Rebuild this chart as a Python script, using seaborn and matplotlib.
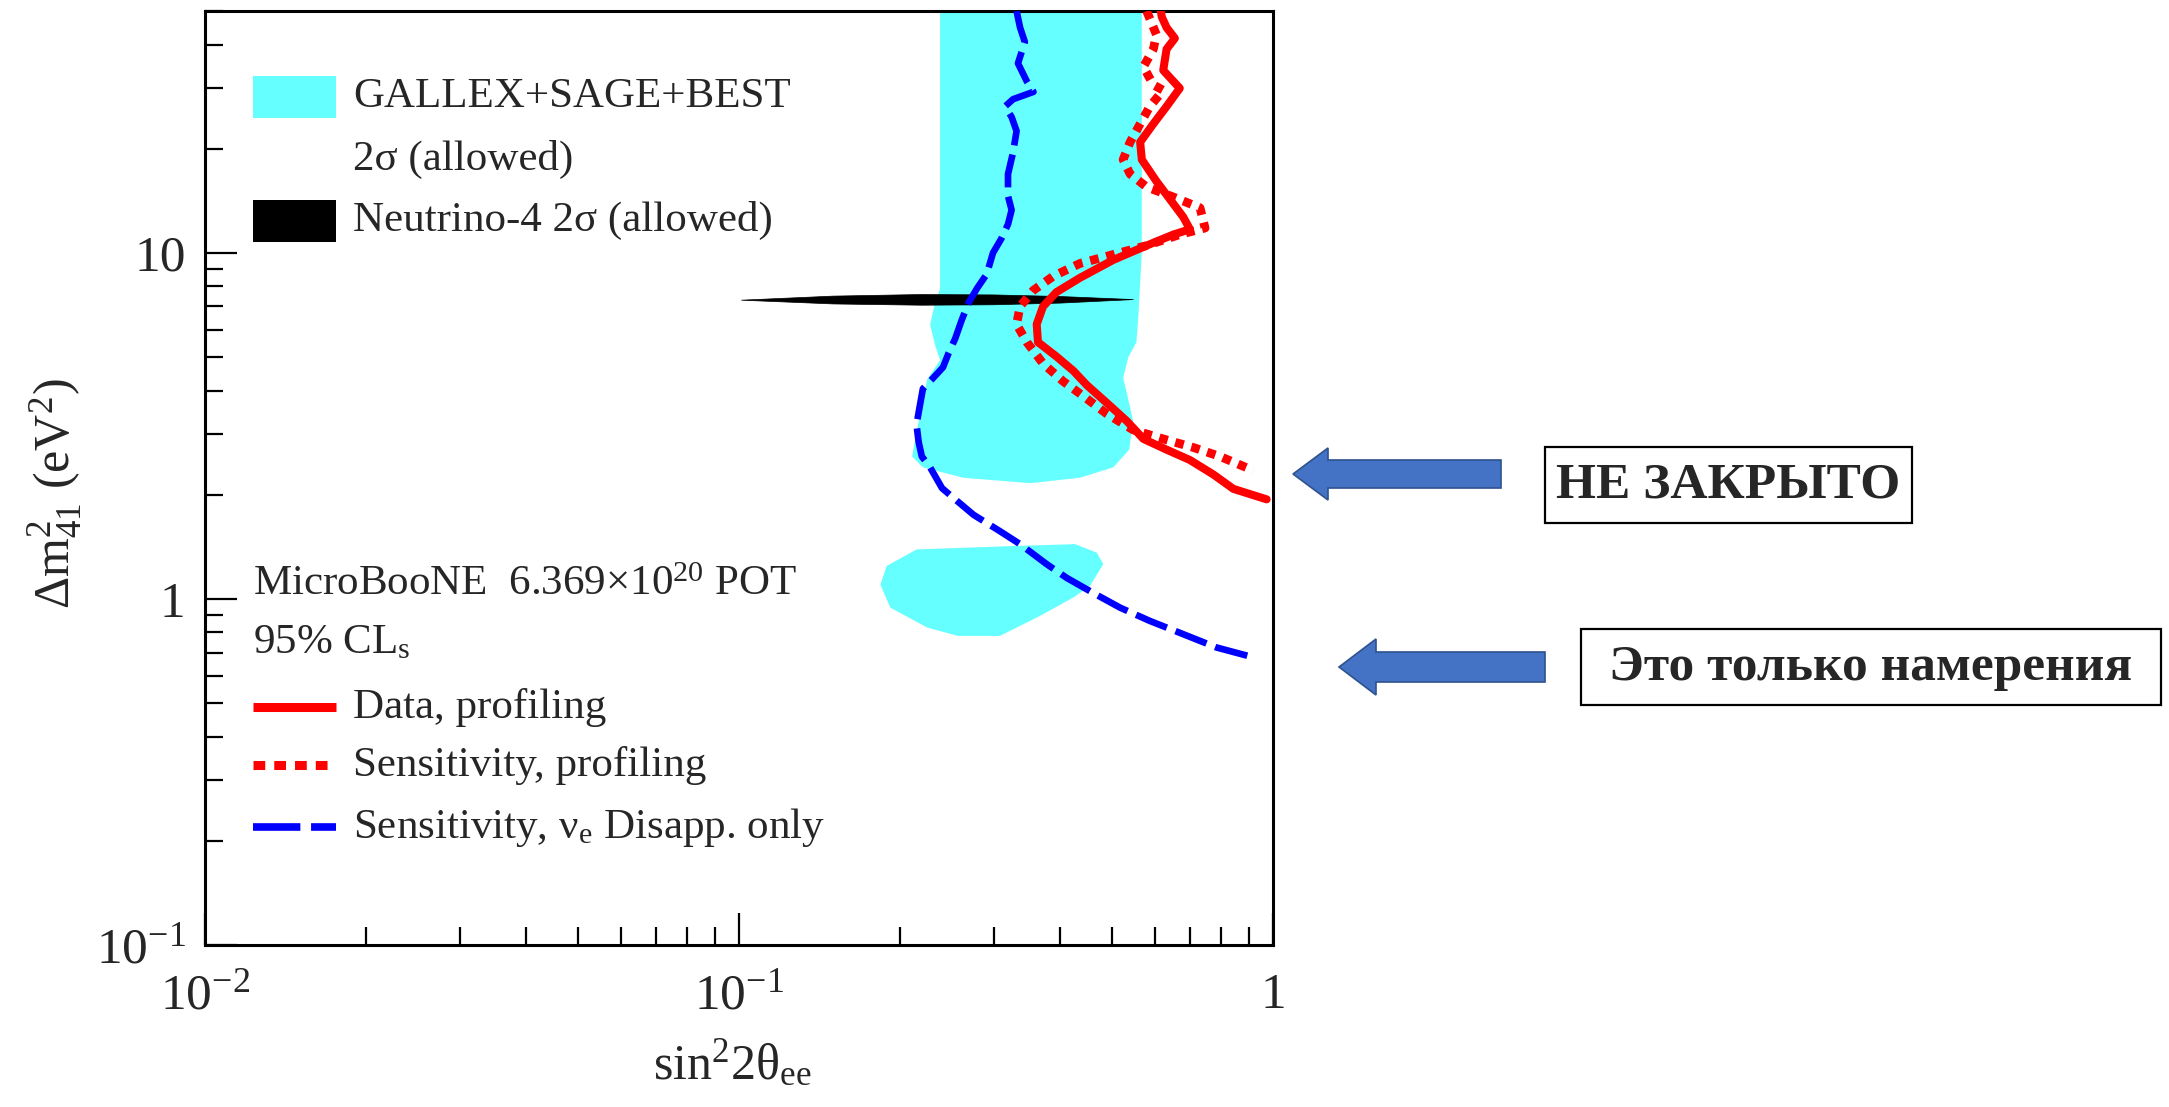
import matplotlib
matplotlib.use("Agg")
import matplotlib.pyplot as plt
import seaborn as sns
from matplotlib.patches import Rectangle, Polygon
from matplotlib.ticker import FixedLocator, LogLocator, NullFormatter

# GALLEX+SAGE+BEST 2 sigma allowed region, upper island
gallex_up_x = [0.238, 0.238, 0.232, 0.228, 0.233, 0.238, 0.225, 0.219, 0.212, 0.211, 0.221, 0.263,
               0.351, 0.435, 0.502, 0.538, 0.547, 0.532, 0.524, 0.536, 0.555, 0.560, 0.564, 0.568, 0.568]
gallex_up_y = [60, 7.9, 7.0, 6.2, 5.4, 4.9, 4.3, 3.5, 2.7, 2.58, 2.40, 2.24,
               2.16, 2.24, 2.40, 2.70, 3.27, 3.96, 4.35, 5.0, 5.52, 6.68, 8.2, 10.0, 60]
# lower island
gallex_lo_x = [0.215, 0.317, 0.426, 0.468, 0.481, 0.454, 0.423, 0.366, 0.308, 0.257, 0.225, 0.192, 0.184, 0.189]
gallex_lo_y = [1.39, 1.42, 1.44, 1.36, 1.26, 1.09, 1.01, 0.893, 0.782, 0.782, 0.827, 0.944, 1.10, 1.245]

# Neutrino-4 2 sigma allowed
nu4_x = [0.101, 0.15, 0.22, 0.30, 0.40, 0.548, 0.40, 0.30, 0.22, 0.15, 0.101]
nu4_y = [7.30, 7.50, 7.58, 7.56, 7.48, 7.33, 7.16, 7.08, 7.06, 7.12, 7.30]

# Data, profiling
data_x = [0.614, 0.619, 0.632, 0.655, 0.632, 0.623, 0.669, 0.632, 0.597, 0.564, 0.568, 0.605, 0.641,
          0.679, 0.699, 0.651, 0.580, 0.502, 0.435, 0.393, 0.371, 0.361, 0.363, 0.393, 0.423, 0.448,
          0.488, 0.532, 0.572, 0.632, 0.699, 0.773, 0.843, 0.973]
data_y = [52, 48.1, 44.8, 41.7, 38.8, 33.7, 29.9, 26.5, 23.6, 20.9, 18.6, 16.1, 14.3,
          12.7, 11.7, 11.3, 10.5, 9.54, 8.47, 7.70, 7.00, 6.22, 5.52, 5.02, 4.56, 4.15,
          3.69, 3.27, 2.90, 2.70, 2.52, 2.29, 2.08, 1.94]

# Sensitivity, profiling
sens_x = [0.580, 0.605, 0.597, 0.572, 0.597, 0.623, 0.588, 0.564, 0.540, 0.524, 0.540, 0.580, 0.651,
          0.730, 0.746, 0.669, 0.580, 0.502, 0.435, 0.388, 0.356, 0.336, 0.331, 0.346, 0.371, 0.405,
          0.441, 0.488, 0.547, 0.623, 0.709, 0.796, 0.919]
sens_y = [50, 42.7, 38.8, 34.5, 30.6, 29.5, 26.5, 23.6, 20.9, 18.6, 16.9, 15.5, 14.5,
          13.5, 11.8, 11.3, 10.5, 9.89, 9.32, 8.57, 7.80, 7.00, 6.22, 5.52, 4.79, 4.25,
          3.86, 3.43, 3.08, 2.90, 2.74, 2.58, 2.35]

# Sensitivity, nu_e disappearance only
disapp_x = [0.331, 0.336, 0.343, 0.333, 0.346, 0.356, 0.326, 0.315, 0.324, 0.331, 0.326, 0.319, 0.319,
            0.324, 0.319, 0.310, 0.299, 0.291, 0.279, 0.269, 0.261, 0.254, 0.247, 0.241, 0.231, 0.221,
            0.218, 0.215, 0.217, 0.220, 0.228, 0.240, 0.252, 0.275, 0.308, 0.336, 0.377, 0.411, 0.461,
            0.517, 0.588, 0.679, 0.784, 0.919]
disapp_y = [50, 44.8, 40.7, 35.3, 31.3, 29.2, 27.8, 26.5, 24.7, 22.5, 19.5, 16.9, 14.6,
            13.3, 12.1, 11.0, 10.0, 8.68, 7.89, 7.17, 6.37, 5.65, 5.14, 4.67, 4.35, 4.05,
            3.60, 3.19, 2.84, 2.58, 2.40, 2.09, 1.96, 1.75, 1.57, 1.44, 1.26, 1.15, 1.04,
            0.944, 0.864, 0.791, 0.724, 0.678]

x_ticks = [0.01, 0.1, 1]
x_ticklabels = ["10$^{-2}$", "10$^{-1}$", "1"]
y_ticks = [0.1, 1, 10]
y_ticklabels = ["10$^{-1}$", "1", "10"]

sns.set_theme(style="ticks")
plt.rcParams["font.family"] = ["Liberation Serif", "DejaVu Serif"]
plt.rcParams["mathtext.fontset"] = "custom"
plt.rcParams["mathtext.rm"] = "Liberation Serif"
plt.rcParams["mathtext.it"] = "Liberation Serif:italic"
plt.rcParams["mathtext.bf"] = "Liberation Serif:bold"

fig = plt.figure(figsize=(21.69, 11.07), dpi=100)
ax = fig.add_axes([0.09451, 0.14634, 0.49239, 0.84372])
ax.set_xscale("log")
ax.set_yscale("log")

cyan = "#66FFFF"
red = "#FF0000"
blue = "#0000FF"
dotted = (0, (1, 0.9))
dashed = (0, (5, 1.4))

ax.fill(gallex_up_x, gallex_up_y, color=cyan, lw=0, zorder=1)
ax.fill(gallex_lo_x, gallex_lo_y, color=cyan, lw=0, zorder=1)
ax.fill(nu4_x, nu4_y, color="black", lw=0.5, zorder=2)

sns.lineplot(x=disapp_x, y=disapp_y, sort=False, estimator=None, ax=ax, color=blue,
             lw=4.8, linestyle=dashed, zorder=3)
sns.lineplot(x=sens_x, y=sens_y, sort=False, estimator=None, ax=ax, color=red,
             lw=6.3, linestyle=dotted, zorder=3)
sns.lineplot(x=data_x, y=data_y, sort=False, estimator=None, ax=ax, color=red,
             lw=5.8, linestyle="-", zorder=4)

ax.set_xlim(0.01, 1)
ax.set_ylim(0.1, 50)

ax.xaxis.set_major_locator(FixedLocator(x_ticks))
ax.set_xticklabels(x_ticklabels)
ax.yaxis.set_major_locator(FixedLocator(y_ticks))
ax.set_yticklabels(y_ticklabels)
ax.xaxis.set_minor_locator(LogLocator(base=10, subs=range(2, 10)))
ax.yaxis.set_minor_locator(LogLocator(base=10, subs=range(2, 10)))
ax.xaxis.set_minor_formatter(NullFormatter())
ax.yaxis.set_minor_formatter(NullFormatter())
ax.tick_params(which="both", direction="in", top=False, right=False, width=1.6, color="black")
ax.tick_params(which="major", length=23, labelsize=37, pad=14)
ax.tick_params(which="minor", length=13)
ax.tick_params(axis="x", which="major", pad=20)
for s in ax.spines.values():
    s.set_linewidth(2.2)
    s.set_color("black")

ax.set_xlabel("sin$^2$2θ$_{\\mathrm{ee}}$", fontsize=36)
ax.xaxis.label.set_va("center")
ax.xaxis.set_label_coords(0.494, -0.128)
ax.set_ylabel("Δm$^2_{41}$ (eV$^2$)", fontsize=36)
ax.yaxis.label.set_va("center")
ax.yaxis.set_label_coords(-0.14, 0.483)

# legend drawn in axes coordinates
fs = 31
hx0, hx1, tx = 0.0449, 0.1227, 0.1386
ax.add_patch(Rectangle((hx0, 0.8854), hx1 - hx0, 0.045, transform=ax.transAxes, color=cyan, lw=0, zorder=5))
ax.text(tx, 0.9079, "GALLEX+SAGE+BEST", transform=ax.transAxes, fontsize=fs, va="center")
ax.text(tx, 0.8415, "2σ (allowed)", transform=ax.transAxes, fontsize=fs, va="center")
ax.add_patch(Rectangle((hx0, 0.7527), hx1 - hx0, 0.045, transform=ax.transAxes, color="black", lw=0, zorder=5))
ax.text(tx, 0.7752, "Neutrino-4 2σ (allowed)", transform=ax.transAxes, fontsize=fs, va="center")

ax.text(hx0, 0.3854, "MicroBooNE  6.369×10$^{20}$ POT", transform=ax.transAxes, fontsize=fs, va="center")
ax.text(hx0, 0.3233, "95% CL$_{\\mathrm{s}}$", transform=ax.transAxes, fontsize=fs, va="center")
ax.plot([hx0, hx1], [0.2548, 0.2548], transform=ax.transAxes, color=red, lw=6.5, solid_capstyle="butt")
ax.text(tx, 0.2548, "Data, profiling", transform=ax.transAxes, fontsize=fs, va="center")
ax.plot([hx0, hx1], [0.1927, 0.1927], transform=ax.transAxes, color=red, lw=6.5, linestyle=(0, (1.3, 1.0)))
ax.text(tx, 0.1927, "Sensitivity, profiling", transform=ax.transAxes, fontsize=fs, va="center")
ax.plot([hx0, hx1], [0.1263, 0.1263], transform=ax.transAxes, color=blue, lw=5.5, linestyle=(0, (6.2, 1.4)))
ax.text(tx, 0.1263, "Sensitivity, ν$_{\\mathrm{e}}$ Disapp. only", transform=ax.transAxes, fontsize=fs, va="center")

# annotation overlay in pixel coordinates
ov = fig.add_axes([0, 0, 1, 1], zorder=10)
ov.set_xlim(0, 2169)
ov.set_ylim(1107, 0)
ov.axis("off")
ov.patch.set_alpha(0)


def left_arrow(tip, tail, yc, head_len, head_h, shaft_h):
    pts = [(tip, yc), (tip + head_len, yc - head_h / 2), (tip + head_len, yc - shaft_h / 2),
           (tail, yc - shaft_h / 2), (tail, yc + shaft_h / 2), (tip + head_len, yc + shaft_h / 2),
           (tip + head_len, yc + head_h / 2)]
    ov.add_patch(Polygon(pts, closed=True, facecolor="#4472C4", edgecolor="#2F528F", lw=1.2))


left_arrow(1293, 1501, 474, 35, 52, 28)
left_arrow(1339, 1545, 667, 37, 56, 30)

ov.add_patch(Rectangle((1545, 447), 367, 76, facecolor="white", edgecolor="black", lw=1.6))
ov.text(1728, 486, "НЕ ЗАКРЫТО", fontsize=37, fontweight="bold", ha="center", va="center")
ov.add_patch(Rectangle((1581, 629), 580, 76, facecolor="white", edgecolor="black", lw=1.6))
ov.text(1871, 668, "Это только намерения", fontsize=37, fontweight="bold", ha="center", va="center")

fig.savefig("out.png", dpi=100, facecolor="white")
